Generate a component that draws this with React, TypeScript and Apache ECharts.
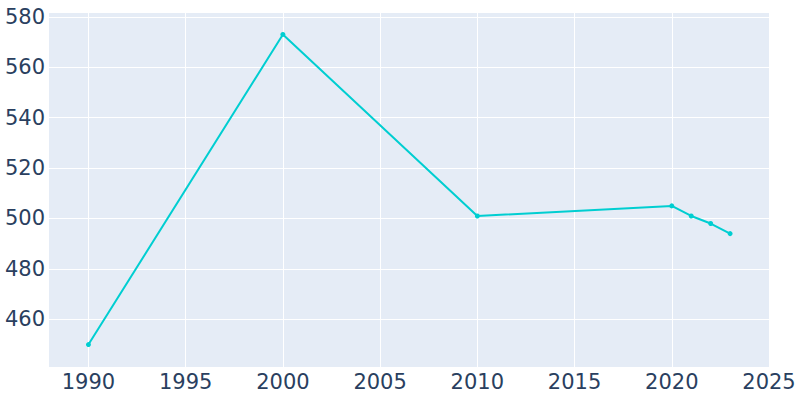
import React, { useEffect, useRef } from "react";
import * as echarts from "echarts";

const years = [1990, 2000, 2010, 2020, 2021, 2022, 2023];
const population = [450, 573, 501, 505, 501, 498, 494];

const xMin = 1987.92;
const xMax = 2025;
const yMin = 441.1;
const yMax = 581.9;

export default function App() {
  const ref = useRef<HTMLDivElement>(null);
  useEffect(() => {
    if (!ref.current) return;
    const chart = echarts.init(ref.current, undefined, { renderer: "svg" });
    const labelStyle = {
      color: "#2a3f5f",
      fontSize: 21,
      fontFamily: "DejaVu Sans, Open Sans, sans-serif",
    };
    chart.setOption({
      animation: false,
      backgroundColor: "#ffffff",
      grid: {
        left: 48,
        right: 31,
        top: 12,
        bottom: 33,
        show: true,
        backgroundColor: "#E5ECF6",
        borderWidth: 0,
      },
      xAxis: {
        type: "value",
        min: xMin,
        max: xMax,
        minInterval: 5,
        maxInterval: 5,
        axisLine: { show: false },
        axisTick: { show: false },
        splitLine: { show: true, lineStyle: { color: "#ffffff", width: 1 } },
        axisLabel: {
          ...labelStyle,
          margin: 4,
          showMinLabel: false,
          showMaxLabel: true,
          formatter: (v: number) => (Math.abs(v % 5) < 1e-6 ? String(v) : ""),
        },
      },
      yAxis: {
        type: "value",
        min: yMin,
        max: yMax,
        minInterval: 20,
        maxInterval: 20,
        axisLine: { show: false },
        axisTick: { show: false },
        splitLine: { show: true, lineStyle: { color: "#ffffff", width: 1 } },
        axisLabel: {
          ...labelStyle,
          margin: 3,
          showMinLabel: false,
          showMaxLabel: false,
          formatter: (v: number) => (Math.abs(v % 20) < 1e-6 ? String(v) : ""),
        },
      },
      series: [
        {
          type: "line",
          data: years.map((y, i) => [y, population[i]]),
          symbol: "circle",
          symbolSize: 5,
          showSymbol: true,
          lineStyle: { color: "#00CED1", width: 2 },
          itemStyle: { color: "#00CED1" },
        },
      ],
    });
    return () => chart.dispose();
  }, []);
  return (
    <div
      ref={ref}
      style={{ position: "fixed", left: 0, top: 0, width: 800, height: 400 }}
    />
  );
}
